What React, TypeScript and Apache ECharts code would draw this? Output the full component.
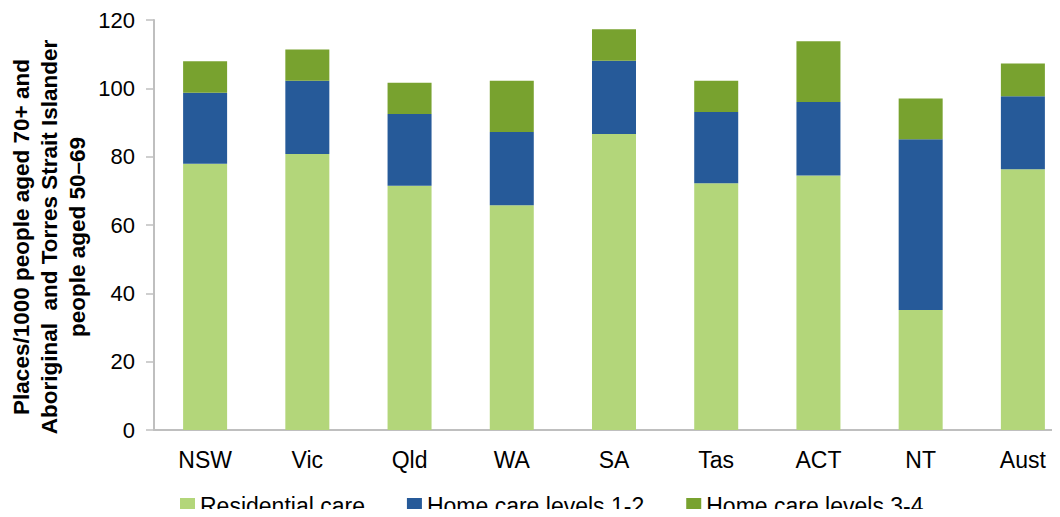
import React, { useEffect, useRef } from "react";
import * as echarts from "echarts";

const categories = ["NSW", "Vic", "Qld", "WA", "SA", "Tas", "ACT", "NT", "Aust"];
const residential = [77.9, 80.8, 71.5, 65.8, 86.6, 72.2, 74.5, 35.1, 76.3];
const homeCare12 = [20.8, 21.4, 21.0, 21.4, 21.5, 20.9, 21.5, 50.0, 21.4];
const homeCare34 = [9.2, 9.2, 9.1, 15.0, 9.2, 9.1, 17.8, 11.9, 9.6];
const yTicks = [0, 20, 40, 60, 80, 100, 120];
const yTitle = [
  "Places/1000 people aged 70+ and",
  "Aboriginal  and Torres Strait Islander",
  "people aged 50\u201369",
];

const FONT = "'Liberation Sans', Arial, sans-serif";

export default function App() {
  const ref = useRef<HTMLDivElement>(null);
  useEffect(() => {
    if (!ref.current) return;
    const chart = echarts.init(ref.current, undefined, { renderer: "svg" });
    const mk = (name: string, data: number[], color: string) => ({
      name,
      type: "bar",
      stack: "total",
      data,
      barWidth: 44,
      itemStyle: { color },
      emphasis: { disabled: true },
    });
    chart.setOption({
      animation: false,
      textStyle: { fontFamily: FONT },
      grid: {
        left: 154,
        right: -14,
        top: 20,
        bottom: 87,
        containLabel: false,
        outerBoundsMode: "none",
      },
      legend: {
        left: 175,
        top: 489,
        itemWidth: 15,
        itemHeight: 15,
        itemGap: 42,
        icon: "rect",
        textStyle: { fontFamily: FONT, fontSize: 23, color: "#000" },
        data: ["Residential care", "Home care levels 1-2", "Home care levels 3-4"],
      },
      graphic: [
        {
          type: "text",
          x: 49,
          y: 237,
          rotation: Math.PI / 2,
          style: {
            text: yTitle.join("\n"),
            fontFamily: FONT,
            fontSize: 22.5,
            fontWeight: "bold",
            fill: "#000",
            lineHeight: 28,
            align: "center",
            verticalAlign: "middle",
          },
        },
      ],
      xAxis: {
        type: "category",
        data: categories,
        axisLine: { lineStyle: { color: "#BFBFBF", width: 2 } },
        axisTick: { show: false },
        axisLabel: { fontFamily: FONT, fontSize: 23, color: "#000", margin: 18 },
      },
      yAxis: {
        type: "value",
        min: yTicks[0],
        max: yTicks[yTicks.length - 1],
        interval: 20,
        splitLine: { show: false },
        axisLine: { show: true, lineStyle: { color: "#BFBFBF", width: 2 } },
        axisTick: { show: true, length: 8, lineStyle: { color: "#BFBFBF", width: 1.5 } },
        axisLabel: { fontFamily: FONT, fontSize: 22, color: "#000", margin: 19 },
      },
      series: [
        mk("Residential care", residential, "#B3D67A"),
        mk("Home care levels 1-2", homeCare12, "#265A99"),
        mk("Home care levels 3-4", homeCare34, "#78A22F"),
      ],
    });
    return () => chart.dispose();
  }, []);
  return <div ref={ref} style={{ width: 1060, height: 517, margin: -8 }} />;
}
